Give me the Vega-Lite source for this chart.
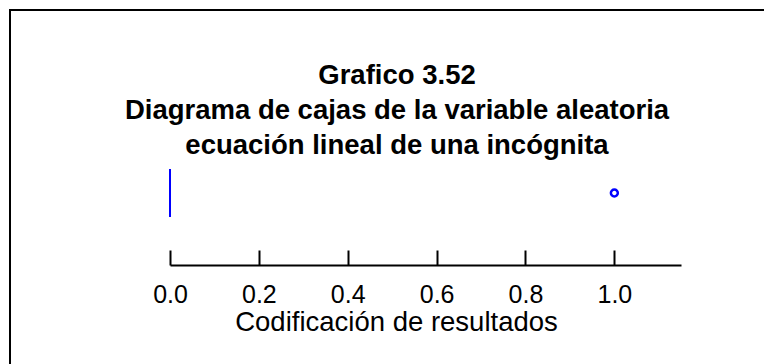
{
  "$schema": "https://vega.github.io/schema/vega-lite/v6.json",
  "width": 774,
  "height": 400,
  "autosize": {"type": "none"},
  "padding": {"left": 10, "top": 10, "right": 0, "bottom": 0},
  "background": "white",
  "config": {"view": {"stroke": "black", "strokeWidth": 2}, "font": "Liberation Sans"},
  "title": {
    "text": ["Grafico 3.52", "Diagrama de cajas de la variable aleatoria", "ecuación lineal de una incógnita"],
    "font": "Liberation Sans",
    "fontSize": 27.5,
    "fontWeight": "bold",
    "color": "black",
    "lineHeight": 35,
    "anchor": "middle",
    "frame": "group",
    "baseline": "top",
    "offset": -149
  },
  "datasets": {
    "box": [{"variable": "ecuación lineal de una incógnita", "lower": 0, "q1": 0, "median": 0, "q3": 0, "upper": 0}],
    "outliers": [{"variable": "ecuación lineal de una incógnita", "value": 1}]
  },
  "layer": [
    {
      "data": {"name": "box"},
      "mark": {"type": "bar", "fillOpacity": 0, "stroke": "blue", "strokeWidth": 2},
      "encoding": {
        "x": {"field": "q1", "type": "quantitative"},
        "x2": {"field": "q3"},
        "y": {"field": "variable", "type": "nominal"}
      }
    },
    {
      "data": {"name": "outliers"},
      "mark": {"type": "point", "shape": "circle", "filled": false, "stroke": "blue", "strokeWidth": 2.5, "size": 48, "opacity": 1},
      "encoding": {
        "x": {"field": "value", "type": "quantitative"},
        "y": {"field": "variable", "type": "nominal"}
      }
    }
  ],
  "resolve": {"scale": {"x": "shared", "y": "shared"}},
  "encoding": {
    "x": {
      "type": "quantitative",
      "scale": {"domain": [0, 1.15], "range": [160, 671], "nice": false, "zero": false},
      "axis": {
        "orient": "bottom",
        "offset": -145,
        "values": [0, 0.2, 0.4, 0.6, 0.8, 1.0],
        "format": ".1f",
        "grid": false,
        "domainColor": "black",
        "domainWidth": 2,
        "tickColor": "black",
        "tickWidth": 2,
        "tickSize": -15,
        "labelFont": "Liberation Sans",
        "labelFontSize": 25,
        "labelColor": "black",
        "labelBaseline": "alphabetic",
        "labelPadding": 52,
        "labelFlush": false,
        "labelDx": -4,
        "title": "Codificación de resultados",
        "titleFont": "Liberation Sans",
        "titleFontSize": 27.5,
        "titleFontWeight": "normal",
        "titleColor": "black",
        "titleX": 386,
        "titleY": 65,
        "titleBaseline": "alphabetic"
      }
    },
    "y": {
      "type": "nominal",
      "scale": {"type": "band", "range": [159, 207], "paddingInner": 0, "paddingOuter": 0},
      "axis": null
    }
  }
}
